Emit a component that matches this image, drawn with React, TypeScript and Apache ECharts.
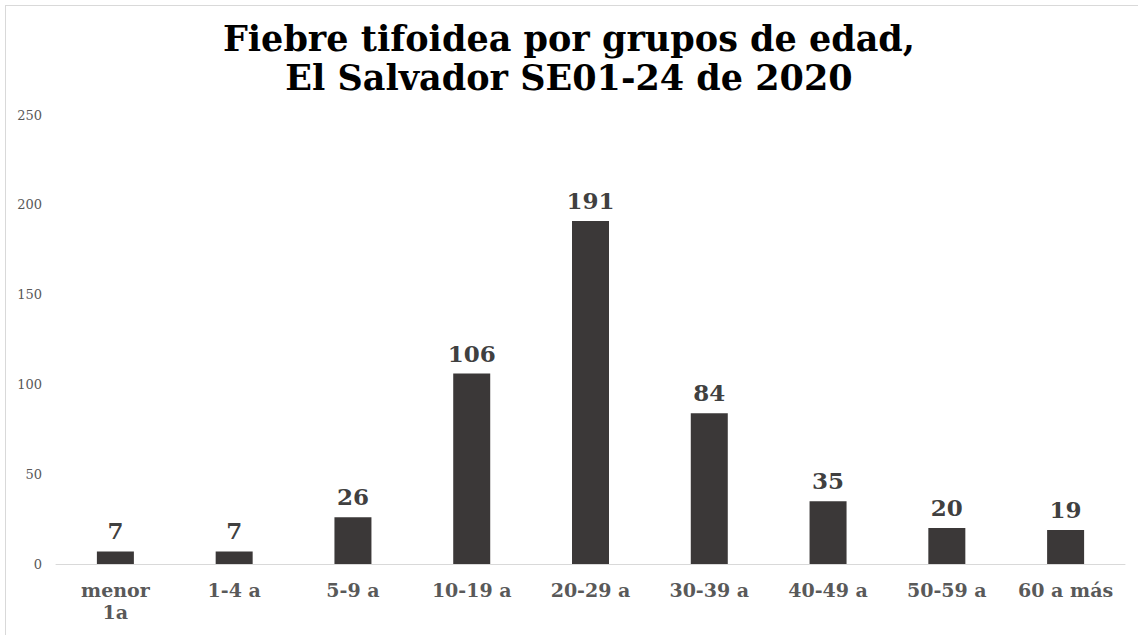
import React, { useEffect, useRef } from "react";
import * as echarts from "echarts";

const categories = ["menor\n1a", "1-4 a", "5-9 a", "10-19 a", "20-29 a", "30-39 a", "40-49 a", "50-59 a", "60 a más"];
const casos = [7, 7, 26, 106, 191, 84, 35, 20, 19];
const titleText = "Fiebre tifoidea por grupos de edad,\nEl Salvador SE01-24 de 2020";
const yMax = 250;
const yStep = 50;

const SERIF = "'DejaVu Serif', 'Liberation Serif', serif";

export default function App() {
  const ref = useRef<HTMLDivElement>(null);
  useEffect(() => {
    if (!ref.current) return;
    const chart = echarts.init(ref.current, null, { renderer: "svg" });
    chart.setOption({
      animation: false,
      backgroundColor: "#ffffff",
      title: {
        text: titleText,
        left: "center",
        top: 14,
        textStyle: {
          fontFamily: SERIF,
          fontWeight: "bold",
          fontSize: 35,
          lineHeight: 39,
          color: "#000000",
        },
      },
      graphic: [
        { type: "line", shape: { x1: 5, y1: 5.5, x2: 1138, y2: 5.5 }, style: { stroke: "#d9d9d9", lineWidth: 1 } },
        { type: "line", shape: { x1: 5.5, y1: 5, x2: 5.5, y2: 635 }, style: { stroke: "#d9d9d9", lineWidth: 1 } },
      ],
      grid: { left: 56, right: 13, top: 115, bottom: 71, containLabel: false },
      xAxis: {
        type: "category",
        data: categories,
        axisLine: { show: true, lineStyle: { color: "#d9d9d9", width: 1 } },
        axisTick: { show: false },
        axisLabel: {
          fontFamily: SERIF,
          fontWeight: "bold",
          fontSize: 19,
          lineHeight: 22,
          color: "#595959",
          margin: 15,
          interval: 0,
        },
      },
      yAxis: {
        type: "value",
        min: 0,
        max: yMax,
        interval: yStep,
        axisLine: { show: false },
        axisTick: { show: false },
        splitLine: { show: false },
        axisLabel: {
          fontFamily: SERIF,
          fontSize: 13,
          color: "#595959",
          margin: 14,
        },
      },
      series: [
        {
          type: "bar",
          data: casos,
          barWidth: 37,
          itemStyle: { color: "#3b3838" },
          label: {
            show: true,
            position: "top",
            distance: 9,
            fontFamily: SERIF,
            fontWeight: "bold",
            fontSize: 23,
            color: "#404040",
          },
        },
      ],
    });
    return () => chart.dispose();
  }, []);
  return <div ref={ref} style={{ width: 1138, height: 635, position: "absolute", left: 0, top: 0 }} />;
}
